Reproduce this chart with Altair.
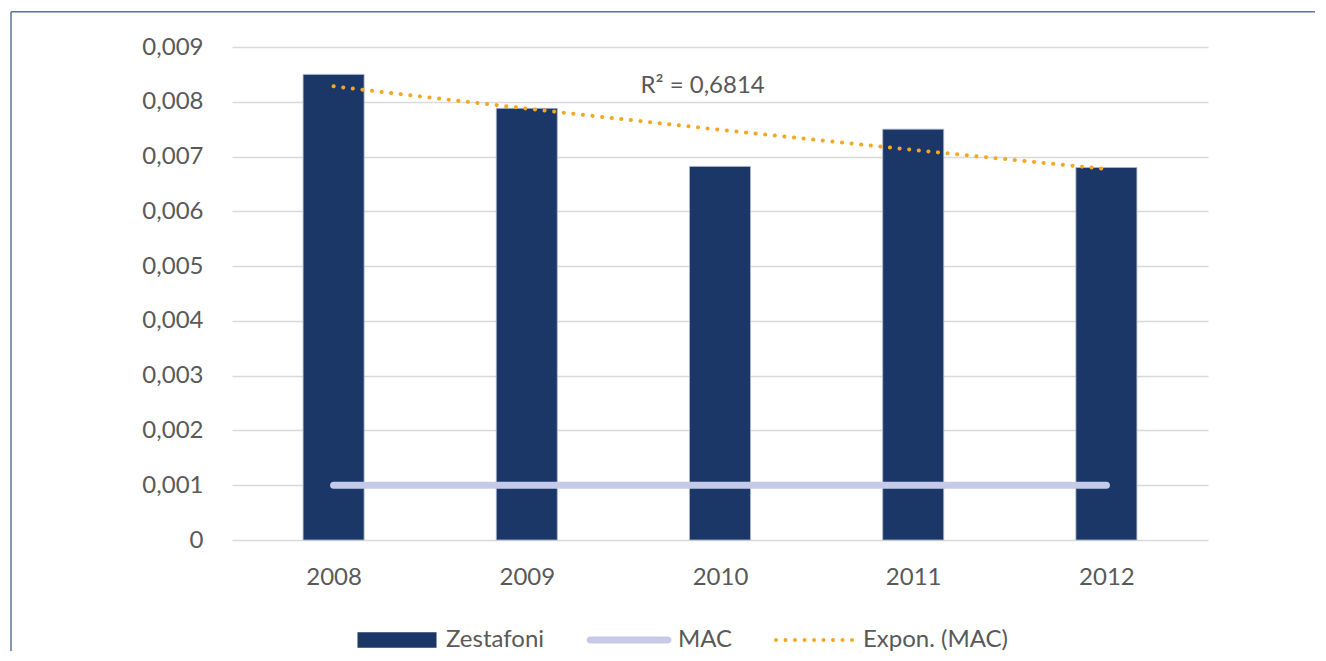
import altair as alt
import pandas as pd

years = [2008, 2009, 2010, 2011, 2012]
zestafoni = [0.0085, 0.00788, 0.00682, 0.0075, 0.0068]
mac = [0.001, 0.001, 0.001, 0.001, 0.001]
y_ticks = [0, 0.001, 0.002, 0.003, 0.004, 0.005, 0.006, 0.007, 0.008, 0.009]
series_names = ["Zestafoni", "MAC", "Expon. (MAC)"]
series_colors = ["#1b3768", "#c5cae9", "#f5a623"]
r2_label = ["R² = 0,6814"]
r2_x = [2009.91]
r2_y = [0.00829]

FONT = "Lato"
TXT = "#595959"
FS = 24

df = pd.DataFrame({"year": years, "zest": zestafoni, "mac": mac})

xscale = alt.Scale(domain=[2007.5, 2012.5], nice=False, zero=False)
yscale = alt.Scale(domain=[0, 0.009], nice=False)

xaxis = alt.Axis(values=years, format="d", grid=False, domain=False, ticks=False,
                 labelPadding=25, title=None)
yaxis = alt.Axis(values=y_ticks, domain=False, ticks=False, labelPadding=29, title=None,
                 labelExpr="datum.value == 0 ? '0' : replace(format(datum.value, '.3f'), '.', ',')")

base = alt.Chart(df)

bars = base.mark_bar(size=61, color="#1b3768", stroke="#aeb8cc", strokeWidth=0.8).encode(
    x=alt.X("year:Q", scale=xscale, axis=xaxis),
    y=alt.Y("zest:Q", scale=yscale, axis=yaxis),
)

mac_line = base.mark_line(color="#c5cae9", strokeWidth=7, strokeCap="round").encode(
    x=alt.X("year:Q", scale=xscale),
    y=alt.Y("mac:Q", scale=yscale),
)

trend = base.transform_regression("year", "zest", method="exp").mark_line(
    color="#f5a623", strokeWidth=4, strokeCap="round", strokeDash=[0.1, 9.55]
).encode(
    x=alt.X("year:Q", scale=xscale),
    y=alt.Y("zest:Q", scale=yscale),
)

r2 = alt.Chart(pd.DataFrame({"t": r2_label, "x": r2_x, "y": r2_y})).mark_text(
    font=FONT, fontSize=FS, color=TXT, align="center", baseline="middle"
).encode(
    x=alt.X("x:Q", scale=xscale),
    y=alt.Y("y:Q", scale=yscale),
    text="t:N",
)

# legend symbols (unit = 8px for symbolSize 256)
rect_path = "M-4.94,-0.98H4.94V0.98H-4.94Z"
mac_path = "M-4.87,-0.4375H4.87A0.4375,0.4375 0 0 1 4.87,0.4375H-4.87A0.4375,0.4375 0 0 1 -4.87,-0.4375Z"
r = 0.25
dots = []
for i in range(9):
    cx = -4.75 + i * 1.1875
    dots.append(f"M{cx - r:.4f},0A{r},{r} 0 1 0 {cx + r:.4f},0A{r},{r} 0 1 0 {cx - r:.4f},0Z")
dot_path = "".join(dots)

leg = alt.Chart(pd.DataFrame({"series": series_names})).mark_point(
    filled=True, opacity=0
).encode(
    x=alt.value(0),
    y=alt.value(0),
    shape=alt.Shape("series:N", scale=alt.Scale(domain=series_names, range=[rect_path, mac_path, dot_path]),
                    legend=alt.Legend(title=None)),
    color=alt.Color("series:N", scale=alt.Scale(domain=series_names, range=series_colors),
                    legend=alt.Legend(title=None)),
)

frame_color = "#5b7499"
frame_top = alt.Chart(pd.DataFrame({"a": [0]})).mark_rule(color=frame_color, strokeWidth=1.5).encode(
    x=alt.value(-221), x2=alt.value(1083), y=alt.value(-35.3)
)
frame_left = alt.Chart(pd.DataFrame({"a": [0]})).mark_rule(color=frame_color, strokeWidth=1.5).encode(
    x=alt.value(-221), y=alt.value(-35.3), y2=alt.value(604)
)

chart = alt.layer(frame_top, frame_left, bars, mac_line, trend, r2, leg).properties(
    width=976, height=493,
    padding={"left": 2, "top": 2, "right": 0, "bottom": 0},
).configure_view(stroke=None).configure_axis(
    labelFont=FONT, labelFontSize=FS, labelColor=TXT, gridColor="#d9d9d9", gridWidth=1.5,
).configure_legend(
    orient="none", legendX=153, legendY=581, direction="horizontal",
    symbolSize=256, symbolStrokeWidth=0, symbolOpacity=1,
    labelFont=FONT, labelFontSize=FS, labelColor=TXT, labelOffset=37, columnPadding=41,
    labelLimit=400,
)

chart.save("out.html", embed_options={"renderer": "svg", "actions": False})
